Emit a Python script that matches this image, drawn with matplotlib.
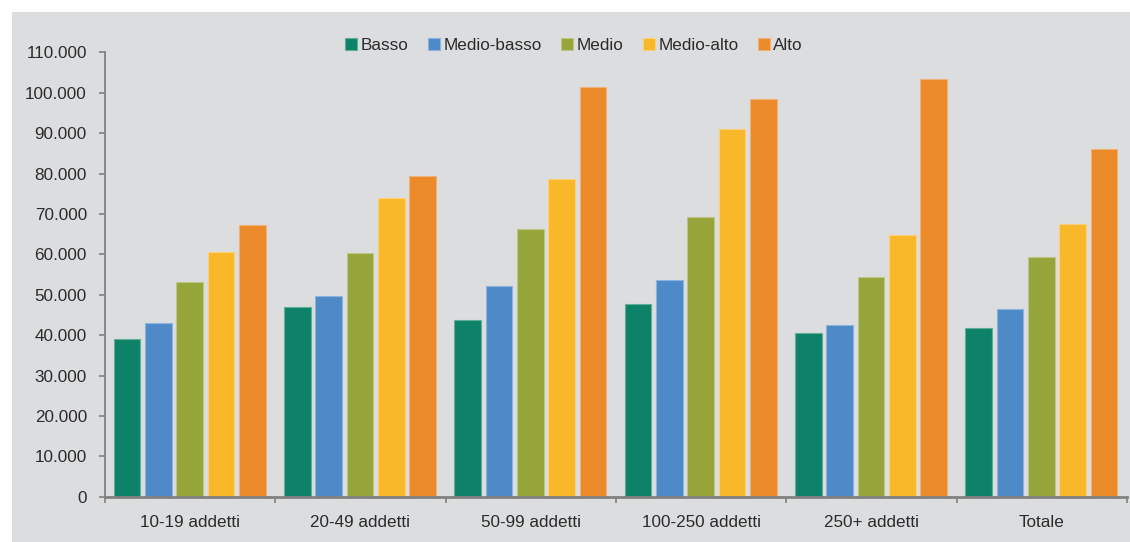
import matplotlib.pyplot as plt
import numpy as np
from matplotlib.patches import Rectangle
from matplotlib.ticker import FuncFormatter

# dati
gruppi = ["10-19 addetti", "20-49 addetti", "50-99 addetti", "100-250 addetti", "250+ addetti", "Totale"]
serie = ["Basso", "Medio-basso", "Medio", "Medio-alto", "Alto"]
basso = [39100, 46900, 43800, 47700, 40600, 41700]
medio_basso = [43100, 49700, 52200, 53600, 42600, 46500]
medio = [53200, 60300, 66300, 69200, 54300, 59300]
medio_alto = [60500, 73900, 78600, 91000, 64900, 67500]
alto = [67200, 79300, 101300, 98400, 103400, 86100]
valori = [basso, medio_basso, medio, medio_alto, alto]
colori = ["#0E8268", "#4E8AC8", "#96A539", "#F9B72A", "#EA8A29"]
bordi = ["#5FAF98", "#8CB4DE", "#BCC786", "#FBD27A", "#F1B27A"]

plt.rcParams["font.family"] = ["Liberation Sans", "DejaVu Sans"]
sfondo = "#DCDDDF"
testo = "#2B2B2B"

fig = plt.figure(figsize=(11.3, 5.42), dpi=100)
fig.patch.set_facecolor("white")
fig.patches.append(Rectangle((12 / 1130, 0), 1 - 12 / 1130, 1 - 12 / 542,
                             transform=fig.transFigure, facecolor=sfondo,
                             edgecolor="none", zorder=-5))

ax = fig.add_axes([105 / 1130, 1 - 496.7 / 542, (1127 - 105) / 1130, (496.7 - 52.3) / 542])
ax.set_facecolor("none")

x = np.arange(len(gruppi))
passo = 0.184
larg = 0.157
for i, (nome, v) in enumerate(zip(serie, valori)):
    pos = x - 0.5 + 0.05 + larg / 2 + i * passo
    ax.bar(pos, v, width=larg, color=colori[i], edgecolor=bordi[i], linewidth=0.8,
           label=nome, zorder=2)

ax.set_xlim(-0.5, len(gruppi) - 0.5)
ax.set_ylim(0, 110000)
ax.set_yticks(np.arange(0, 110001, 10000))
ax.yaxis.set_major_formatter(FuncFormatter(lambda v, p: f"{int(v):,}".replace(",", ".")))

ax.set_xticks(x)
ax.set_xticklabels(gruppi)
ax.set_xticks(np.arange(-0.5, len(gruppi), 1), minor=True)
ax.tick_params(axis="x", which="major", length=0, pad=13, labelsize=12.3, labelcolor=testo)
ax.tick_params(axis="x", which="minor", length=4, width=1.2, color="#808080")
ax.tick_params(axis="y", length=4, width=1.2, color="#808080", pad=9, labelsize=12.3, labelcolor=testo)

for s in ["top", "right"]:
    ax.spines[s].set_visible(False)
ax.spines["left"].set_color("#808080")
ax.spines["left"].set_linewidth(1.3)
ax.spines["bottom"].set_color("#808080")
ax.spines["bottom"].set_linewidth(2)

fig.legend(loc="center", bbox_to_anchor=(574 / 1130, 1 - 45 / 542), ncol=5, frameon=False,
           fontsize=12.3, handlelength=0.7, handleheight=0.7, handletextpad=0.2,
           columnspacing=1.15, labelcolor=testo)

fig.savefig("out.png", dpi=100, facecolor=fig.get_facecolor())
